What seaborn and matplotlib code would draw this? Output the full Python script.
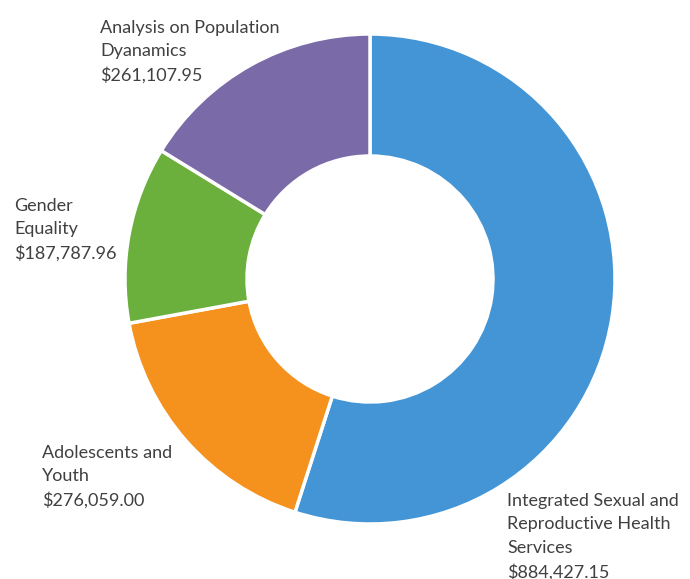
import matplotlib
matplotlib.use("Agg")
import matplotlib.pyplot as plt
import seaborn as sns

# funding per programme area (clockwise from 12 o'clock)
categorias = ["Integrated Sexual and\nReproductive Health\nServices",
              "Adolescents and\nYouth",
              "Gender\nEquality",
              "Analysis on Population\nDyanamics"]
valores = [884427.15, 276059.00, 187787.96, 261107.95]
cores = ["#4495D5", "#F5921E", "#6BAF3C", "#7A6BA8"]

sns.set_style("white")
plt.rcParams['font.family'] = ['Lato', 'DejaVu Sans']

W, H = 690, 579
fig = plt.figure(figsize=(W / 100, H / 100), dpi=100)
ax = fig.add_axes([0, 0, 1, 1])

ax.pie(valores, colors=cores, startangle=90, counterclock=False,
       center=(370, H - 279), radius=245, frame=True,
       wedgeprops=dict(width=122, edgecolor='white', linewidth=2.5))
ax.set_xlim(0, W)
ax.set_ylim(0, H)
ax.axis('off')

# label blocks: (x, top y in pixels)
posicoes = [(507, 493), (42, 445), (14, 198), (100, 20)]
for nome, valor, (px, py) in zip(categorias, valores, posicoes):
    ax.text(px, H - py, f"{nome}\n${valor:,.2f}", ha='left', va='top',
            fontsize=13, color='#404040', linespacing=1.56)

fig.savefig("out.png", dpi=100)
